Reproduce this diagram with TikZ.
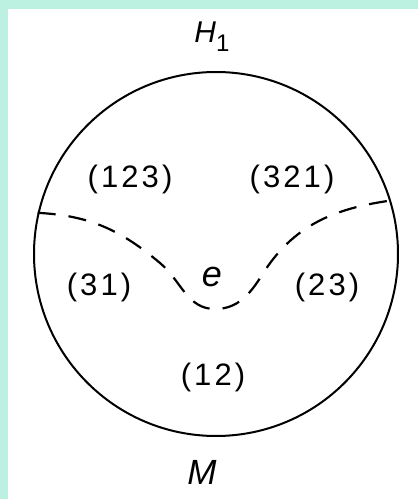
\documentclass[tikz,border=0pt]{standalone}
\usepackage{fontspec}
\setmainfont{Liberation Sans}
\newfontfamily\regionfont[LetterSpace=10]{Liberation Sans}
\usetikzlibrary{positioning}
\definecolor{mintbg}{HTML}{BCF1E1}
\tikzset{
  region/.style={font=\regionfont\fontsize{31}{33}\selectfont, inner sep=0pt},
  pointlabel/.style={font=\fontsize{30}{32}\selectfont\itshape, inner sep=0pt},
  border/.style={draw, circle, line width=2pt, minimum size=364pt, inner sep=0pt},
  cutline/.style={line width=2.2pt, dash pattern=on 18pt off 13pt}
}

\begin{document}
\begin{tikzpicture}[x=1pt, y=1pt]
  % backdrop
  \fill[mintbg] (0,0) rectangle (418,499);
  \fill[white] (8,0) rectangle (418,490);
  \useasboundingbox (0,0) rectangle (418,499);

  \node[border] (disk) at (216,245) {};
  \node[pointlabel] (h1) at (212,462) {H\raisebox{-9pt}{\upshape\fontsize{24}{24}\selectfont 1}};
  \node[pointlabel, font=\fontsize{35}{37}\selectfont\itshape] (m) at (202,27) {M};

  % regions
  \node[region] (r123) at (130,320) {(123)};
  \node[region] (r321) at (292,320) {(321)};
  \node[region] (r31) at (99,212) {(31)};
  \node[region] (r23) at (327,212) {(23)};
  \node[region] (r12) at (213,122) {(12)};
  \node[pointlabel, font=\fontsize{36}{38}\selectfont\itshape] (e) at (212,222) {e};

  % dashed cut through e
  \coordinate (lft) at (disk.167.4);
  \coordinate (rgt) at (disk.17.1);
  \coordinate (m1) at (160,236);
  \coordinate (bot) at (215,190);
  \coordinate (m2) at (262,224);
  \draw[cutline] (lft) to[out=-3,in=140] (m1) to[out=-40,in=180] (bot)
    to[out=0,in=238] (m2) to[out=58,in=188] (rgt);
\end{tikzpicture}
\end{document}
